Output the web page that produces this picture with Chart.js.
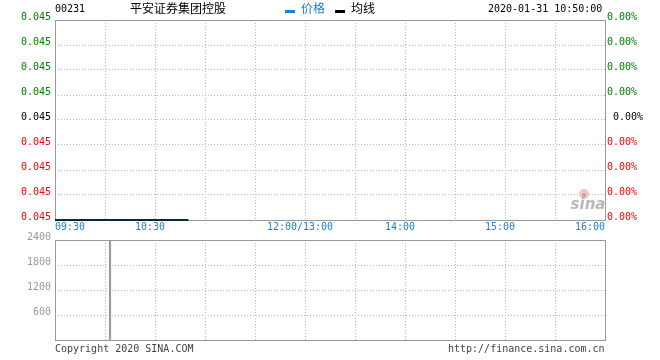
<!DOCTYPE html>
<html>
<head>
<meta charset="utf-8">
<script src="https://cdn.jsdelivr.net/npm/chart.js@4"></script>
<style>
body { margin: 0; background: #fff; }
#wrap { position: relative; width: 660px; height: 360px; overflow: hidden; font-family: "DejaVu Sans Mono", monospace; font-size: 10px; }
#wrap canvas { position: absolute; left: 0; }
.t { position: absolute; white-space: pre; line-height: 14px; }
.cn { font-family: "Noto Sans CJK SC", sans-serif; font-size: 12px; }
.mark { position: absolute; width: 10px; height: 3px; }
</style>
</head>
<body>
<div id="wrap">
  <canvas id="priceChart" width="660" height="235" style="top:0"></canvas>
  <canvas id="volChart" width="660" height="130" style="top:230px"></canvas>

  <div class="t" style="left:55px; top:2px;">00231</div>
  <div class="t cn" style="left:130px; top:1px;">平安证券集团控股</div>
  <div class="mark" style="left:285px; top:10px; background:#1c7fd0;"></div>
  <div class="t cn" style="left:301px; top:1px; color:#1c7fd0;">价格</div>
  <div class="mark" style="left:335px; top:10px; background:#000;"></div>
  <div class="t cn" style="left:351px; top:1px;">均线</div>
  <div class="t" style="left:488px; top:2px;">2020-01-31 10:50:00</div>

  <div class="t" style="left:55px; top:342px; color:#444;">Copyright 2020 SINA.COM</div>
  <div class="t" style="left:448px; top:342px; color:#444;">http://finance.sina.com.cn</div>
</div>
<script>
// minutes since 09:30 (trading time, lunch break removed)
const priceMinutes = [0, 10, 20, 30, 40, 50, 60, 70, 80];
const priceValues = [0.045, 0.045, 0.045, 0.045, 0.045, 0.045, 0.045, 0.045, 0.045];
const avgValues = [0.045, 0.045, 0.045, 0.045, 0.045, 0.045, 0.045, 0.045, 0.045];

const volMinutes = [33];
const volValues = [2400];

const priceTickValues = [0.045, 0.0451, 0.0452, 0.0453, 0.0454, 0.0455, 0.0456, 0.0457, 0.0458];
const priceTickLabels = ["0.045", "0.045", "0.045", "0.045", "0.045", "0.045", "0.045", "0.045", "0.045"];
const pctTickLabels = ["0.00%", "0.00%", "0.00%", "0.00%", " 0.00%", "0.00%", "0.00%", "0.00%", "0.00%"];

const volTickValues = [0, 600, 1200, 1800, 2400];
const volTickLabels = ["", "600", "1200", "1800", "2400"];

const gridMinutes = [0, 30, 60, 90, 120, 150, 180, 210, 240, 270, 300, 330];
const timeTickMinutes = [0, 60, 150, 210, 270, 330];
const timeTickLabels = ["09:30", "10:30", "12:00/13:00", "14:00", "15:00", "16:00"];

const BLUE = "#1c7fd0";
const GRID = "#b4b4b4";
const FRAME = "#999";
const MONO = "DejaVu Sans Mono";

function tickColor(ctx) {
    if (ctx.index < 4) return "#ff0000";
    if (ctx.index === 4) return "#000";
    return "#008000";
}

const framePlugin = {
    id: "frame",
    beforeDatasetsDraw(chart) {
        const { ctx, chartArea: a } = chart;
        ctx.save();
        ctx.strokeStyle = FRAME;
        ctx.lineWidth = 1;
        ctx.strokeRect(a.left + 0.5, a.top + 0.5, a.right - a.left, a.bottom - a.top);
        ctx.restore();
    }
};

const sinaPlugin = {
    id: "sina",
    afterDraw(chart) {
        const ctx = chart.ctx;
        ctx.save();
        ctx.fillStyle = "#f7c4c4";
        ctx.beginPath();
        ctx.arc(584, 194, 5, 0, Math.PI * 2);
        ctx.fill();
        ctx.fillStyle = "#aaa";
        ctx.beginPath();
        ctx.arc(584, 195, 2, 0, Math.PI * 2);
        ctx.fill();
        ctx.fillStyle = "#b8b8b8";
        ctx.font = "italic bold 15px 'DejaVu Sans'";
        ctx.textAlign = "center";
        ctx.textBaseline = "middle";
        ctx.fillText("sina", 588, 205);
        ctx.restore();
    }
};

function gridAxis() {
    return {
        type: "linear",
        min: 0,
        max: 330,
        offset: false,
        position: "bottom",
        afterBuildTicks: s => { s.ticks = gridMinutes.map(v => ({ value: v })); },
        afterFit: s => { s.height = 0; },
        ticks: { display: false },
        grid: { color: GRID, lineWidth: 1, drawTicks: false, offset: false },
        border: { display: false, dash: [1, 2] }
    };
}

let priceChart, volChart;

function initPriceChart() {
    const ctx = document.getElementById("priceChart").getContext("2d");
    priceChart = new Chart(ctx, {
        type: "line",
        data: {
            datasets: [{
                label: "均线",
                data: priceMinutes.map((m, i) => ({ x: m, y: avgValues[i] })),
                borderColor: "#000",
                borderWidth: 1.5,
                pointRadius: 0,
                clip: false
            }, {
                label: "价格",
                data: priceMinutes.map((m, i) => ({ x: m, y: priceValues[i] })),
                borderColor: BLUE,
                borderWidth: 1.5,
                pointRadius: 0,
                clip: false
            }]
        },
        options: {
            responsive: false,
            animation: false,
            layout: { padding: { top: 20, left: 0, right: 0, bottom: 0 } },
            plugins: { legend: { display: false }, tooltip: { enabled: false } },
            scales: {
                x: {
                    type: "linear",
                    min: 0,
                    max: 330,
                    position: "bottom",
                    afterBuildTicks: s => {
                        const last = timeTickMinutes.length - 1;
                        s.ticks = timeTickMinutes.map((v, i) => ({ value: (i > 0 && i < last) ? v - 3 : v }));
                    },
                    afterFit: s => { s.height = 15; },
                    ticks: {
                        autoSkip: false,
                        maxRotation: 0,
                        align: "inner",
                        padding: 1,
                        color: BLUE,
                        font: { family: MONO, size: 10 },
                        callback: (v, i) => timeTickLabels[i]
                    },
                    grid: { display: false, drawTicks: false },
                    border: { display: false }
                },
                xg: gridAxis(),
                y: {
                    position: "left",
                    min: priceTickValues[0],
                    max: priceTickValues[priceTickValues.length - 1],
                    afterBuildTicks: s => { s.ticks = priceTickValues.map(v => ({ value: v })); },
                    afterFit: s => { s.width = 55; },
                    ticks: {
                        padding: 4,
                        labelOffset: -3,
                        color: tickColor,
                        font: { family: MONO, size: 10 },
                        callback: (v, i) => priceTickLabels[i]
                    },
                    grid: { color: GRID, lineWidth: 1, drawTicks: false },
                    border: { display: false, dash: [1, 2] }
                },
                y1: {
                    position: "right",
                    min: priceTickValues[0],
                    max: priceTickValues[priceTickValues.length - 1],
                    afterBuildTicks: s => { s.ticks = priceTickValues.map(v => ({ value: v })); },
                    afterFit: s => { s.width = 55; },
                    ticks: {
                        padding: 2,
                        labelOffset: -3,
                        color: tickColor,
                        font: { family: MONO, size: 10 },
                        callback: (v, i) => pctTickLabels[i]
                    },
                    grid: { display: false, drawTicks: false },
                    border: { display: false }
                }
            }
        },
        plugins: [framePlugin, sinaPlugin]
    });
}

function initVolChart() {
    const ctx = document.getElementById("volChart").getContext("2d");
    volChart = new Chart(ctx, {
        type: "bar",
        data: {
            datasets: [{
                label: "成交量",
                data: volMinutes.map((m, i) => ({ x: m, y: volValues[i] })),
                backgroundColor: FRAME,
                barThickness: 1.5,
                borderWidth: 0
            }]
        },
        options: {
            responsive: false,
            animation: false,
            layout: { padding: { top: 10, left: 0, right: 55, bottom: 20 } },
            plugins: { legend: { display: false }, tooltip: { enabled: false } },
            scales: {
                x: gridAxis(),
                y: {
                    position: "left",
                    min: 0,
                    max: volTickValues[volTickValues.length - 1],
                    afterBuildTicks: s => { s.ticks = volTickValues.map(v => ({ value: v })); },
                    afterFit: s => { s.width = 55; },
                    ticks: {
                        padding: 4,
                        labelOffset: -3,
                        color: "#999",
                        font: { family: MONO, size: 10 },
                        callback: (v, i) => volTickLabels[i]
                    },
                    grid: { color: GRID, lineWidth: 1, drawTicks: false },
                    border: { display: false, dash: [1, 2] }
                }
            }
        },
        plugins: [framePlugin]
    });
}

document.addEventListener("DOMContentLoaded", function() {
    initPriceChart();
    initVolChart();
});
</script>
</body>
</html>
